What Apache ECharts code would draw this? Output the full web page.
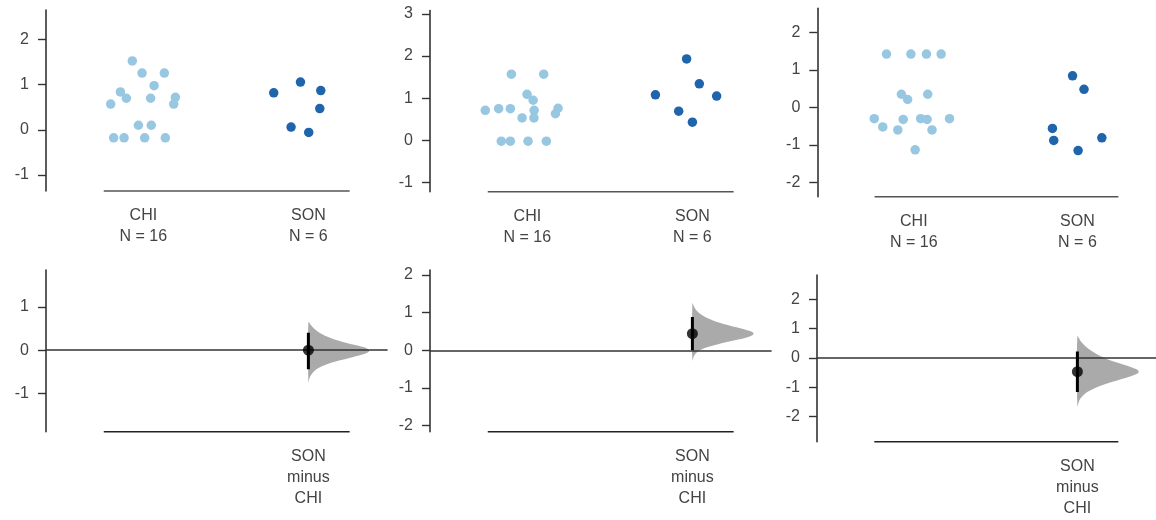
<!DOCTYPE html>
<html>
<head>
<meta charset="utf-8">
<script src="https://cdn.jsdelivr.net/npm/echarts@6/dist/echarts.min.js"></script>
<style>html,body{margin:0;padding:0;background:#fff}#c{width:1156px;height:520px}</style>
</head>
<body>
<div id="c"></div>
<script>
// ---- data ----
const groups = ['CHI', 'SON'];
const topTicks1 = [-1, 0, 1, 2];
const topTicks2 = [-1, 0, 1, 2, 3];
const topTicks3 = [-2, -1, 0, 1, 2];
const botTicks1 = [-1, 0, 1];
const botTicks2 = [-2, -1, 0, 1, 2];
const botTicks3 = [-2, -1, 0, 1, 2];

const p1ChiY  = [1.53, 1.26, 1.26, 0.98, 0.84, 0.70, 0.70, 0.72, 0.57, 0.57, 0.10, 0.10, -0.18, -0.18, -0.18, -0.18];
const p1ChiDx = [-0.067, -0.008, 0.127, 0.065, -0.139, -0.103, 0.044, 0.194, -0.198, 0.184, -0.030, 0.048, -0.180, -0.117, 0.008, 0.133];
const p1SonY  = [1.06, 0.82, 0.87, 0.47, 0.06, -0.06];
const p1SonDx = [-0.048, -0.210, 0.075, 0.069, -0.105, 0.002];

const p2ChiY  = [1.57, 1.57, 1.09, 0.95, 0.71, 0.75, 0.75, 0.71, 0.76, 0.63, 0.53, 0.53, -0.02, -0.02, -0.02, -0.02];
const p2ChiDx = [-0.097, 0.099, -0.002, 0.035, -0.255, -0.174, -0.103, 0.041, 0.186, 0.170, -0.032, 0.040, -0.158, -0.103, 0.004, 0.115];
const p2SonY  = [1.93, 1.34, 1.08, 1.05, 0.69, 0.43];
const p2SonDx = [-0.035, 0.042, -0.224, 0.147, -0.083, 0.000];

const p3ChiY  = [1.42, 1.42, 1.42, 1.42, 0.35, 0.21, 0.35, -0.30, -0.52, -0.32, -0.30, -0.32, -0.60, -0.60, -0.30, -1.13];
const p3ChiDx = [-0.167, -0.018, 0.077, 0.167, -0.076, -0.038, 0.085, -0.242, -0.190, -0.065, 0.042, 0.081, -0.098, 0.111, 0.218, 0.008];
const p3SonY  = [0.84, 0.48, -0.56, -0.88, -0.81, -1.15];
const p3SonDx = [-0.030, 0.040, -0.153, -0.145, 0.149, 0.004];

const effMean = [0.00, 0.44, -0.47];
const ciLow   = [-0.44, 0.00, -1.16];
const ciHigh  = [0.40, 0.88, 0.22];

const p1ViolinY = [0.65, 0.58, 0.50, 0.42, 0.34, 0.26, 0.18, 0.10, 0.03, -0.03, -0.10, -0.18, -0.26, -0.34, -0.42, -0.50, -0.58, -0.66, -0.75];
const p1ViolinW = [0, 0.04, 0.09, 0.16, 0.26, 0.40, 0.59, 0.81, 0.96, 0.98, 0.87, 0.66, 0.44, 0.27, 0.15, 0.08, 0.04, 0.015, 0];
const p2ViolinY = [1.25, 1.15, 1.05, 0.95, 0.85, 0.75, 0.65, 0.55, 0.47, 0.41, 0.33, 0.25, 0.17, 0.09, 0.01, -0.07, -0.15, -0.27];
const p2ViolinW = [0, 0.03, 0.07, 0.14, 0.25, 0.40, 0.61, 0.85, 0.98, 0.98, 0.86, 0.65, 0.43, 0.25, 0.13, 0.06, 0.025, 0];
const p3ViolinY = [0.73, 0.55, 0.40, 0.25, 0.10, -0.05, -0.20, -0.33, -0.43, -0.51, -0.62, -0.75, -0.88, -1.02, -1.16, -1.30, -1.45, -1.65];
const p3ViolinW = [0, 0.06, 0.13, 0.22, 0.34, 0.50, 0.71, 0.89, 0.99, 0.99, 0.87, 0.67, 0.47, 0.29, 0.16, 0.08, 0.03, 0];

// ---- assemble ----
const panels = [
  {chiY: p1ChiY, chiDx: p1ChiDx, sonY: p1SonY, sonDx: p1SonDx, vY: p1ViolinY, vW: p1ViolinW, tTicks: topTicks1, bTicks: botTicks1},
  {chiY: p2ChiY, chiDx: p2ChiDx, sonY: p2SonY, sonDx: p2SonDx, vY: p2ViolinY, vW: p2ViolinW, tTicks: topTicks2, bTicks: botTicks2},
  {chiY: p3ChiY, chiDx: p3ChiDx, sonY: p3SonY, sonDx: p3SonDx, vY: p3ViolinY, vW: p3ViolinW, tTicks: topTicks3, bTicks: botTicks3}
];

// layout (pixels / axis ranges)
const layout = [
  {top: {left: 46, top: 10, width: 341.6, height: 181, min: -1.36, max: 2.66},
   bot: {left: 46, top: 270, width: 341.6, height: 161.7, min: -1.88, max: 1.85}},
  {top: {left: 430, top: 10.5, width: 341.6, height: 181.2, min: -1.22, max: 3.08},
   bot: {left: 430, top: 270, width: 341.6, height: 161.7, min: -2.16, max: 2.13}},
  {top: {left: 817.3, top: 8.3, width: 347.8, height: 188.4, min: -2.38, max: 2.64},
   bot: {left: 817, top: 275, width: 347.8, height: 166.7, min: -2.85, max: 2.82}}
];
const XMIN = -0.59, XMAX = 1.48;
const SPINE = [-0.24, 1.25];
const VMAXW = 0.375;
const FONT = 'Liberation Sans, Arial, sans-serif';
const LIGHT = '#97c7e1';
const DARK = '#2065ab';

const grids = [], xAxes = [], yAxes = [], series = [];

function yAxisDef(gi, l, ticks) {
  return {
    type: 'value', gridIndex: gi, min: l.min, max: l.max, position: 'left',
    axisLine: {show: true, onZero: false, lineStyle: {color: '#333', width: 1.6}},
    axisTick: {show: true, length: 8, lineStyle: {color: '#333', width: 1.4}, customValues: ticks},
    axisLabel: {show: true, color: '#444', fontSize: 16, fontFamily: FONT, margin: 17, customValues: ticks,
      formatter: v => (v < 0 ? '-' + Math.abs(v) : String(v))},
    splitLine: {show: false}
  };
}

panels.forEach((p, i) => {
  const L = layout[i];
  const gt = 2 * i, gb = 2 * i + 1;
  grids.push({left: L.top.left, top: L.top.top, width: L.top.width, height: L.top.height});
  grids.push({left: L.bot.left, top: L.bot.top, width: L.bot.width, height: L.bot.height});

  const topLabels = [groups[0] + '\nN = ' + p.chiY.length, groups[1] + '\nN = ' + p.sonY.length];
  xAxes.push({
    type: 'value', gridIndex: gt, min: XMIN, max: XMAX, position: 'bottom',
    axisLine: {show: false, onZero: false}, axisTick: {show: false}, splitLine: {show: false},
    axisLabel: {show: true, customValues: [0, 1], color: '#444', fontSize: 16, fontFamily: FONT,
      lineHeight: 21, margin: 14, formatter: v => topLabels[Math.round(v)]}
  });
  xAxes.push({
    type: 'value', gridIndex: gb, min: XMIN, max: XMAX, position: 'bottom',
    axisLine: {show: false, onZero: false}, axisTick: {show: false}, splitLine: {show: false},
    axisLabel: {show: true, customValues: [1], color: '#444', fontSize: 16, fontFamily: FONT,
      lineHeight: 21, margin: 14, formatter: () => groups[1] + '\nminus\n' + groups[0]}
  });
  yAxes.push(yAxisDef(gt, L.top, p.tTicks));
  yAxes.push(yAxisDef(gb, L.bot, p.bTicks));

  // top spine (trimmed x axis)
  series.push({type: 'line', xAxisIndex: gt, yAxisIndex: gt, clip: false, symbol: 'none', silent: true,
    lineStyle: {color: '#555', width: 1.6}, data: [[SPINE[0], L.top.min], [SPINE[1], L.top.min]]});
  // swarms
  series.push({type: 'scatter', xAxisIndex: gt, yAxisIndex: gt, symbolSize: 9.5,
    itemStyle: {color: LIGHT, opacity: 1}, data: p.chiY.map((y, k) => [0 + p.chiDx[k], y])});
  series.push({type: 'scatter', xAxisIndex: gt, yAxisIndex: gt, symbolSize: 9.5,
    itemStyle: {color: DARK, opacity: 1}, data: p.sonY.map((y, k) => [1 + p.sonDx[k], y])});

  // bottom spine
  series.push({type: 'line', xAxisIndex: gb, yAxisIndex: gb, clip: false, symbol: 'none', silent: true,
    lineStyle: {color: '#222', width: 1.6}, data: [[SPINE[0], L.bot.min], [SPINE[1], L.bot.min]]});
  // violin (half) of bootstrap distribution
  const prof = p.vY.map((y, k) => [y, p.vW[k]]);
  series.push({
    type: 'custom', xAxisIndex: gb, yAxisIndex: gb, silent: true, z: 2,
    data: prof,
    encode: {x: 1, y: 0},
    renderItem: (params, api) => {
      if (params.dataIndex !== 0) return null;
      const pts = prof.map(([y, w]) => api.coord([1 + w * VMAXW, y]));
      return {type: 'polygon', shape: {points: pts, smooth: 0.35}, style: {fill: '#aaaaaa'}};
    },
    markLine: {silent: true, symbol: 'none', label: {show: false}, z: 3,
      lineStyle: {color: '#333', width: 1.6, type: 'solid'}, data: [{yAxis: 0}]}
  });
  // CI bar
  series.push({type: 'line', xAxisIndex: gb, yAxisIndex: gb, symbol: 'none', z: 4,
    lineStyle: {color: '#000', width: 3}, data: [[1, ciLow[i]], [1, ciHigh[i]]]});
  // effect size point
  series.push({type: 'scatter', xAxisIndex: gb, yAxisIndex: gb, symbolSize: 11, z: 5,
    itemStyle: {color: '#000'}, data: [[1, effMean[i]]]});
});

const chart = echarts.init(document.getElementById('c'), null, {renderer: 'canvas'});
chart.setOption({
  animation: false,
  backgroundColor: '#fff',
  grid: grids, xAxis: xAxes, yAxis: yAxes, series: series
});
</script>
</body>
</html>
